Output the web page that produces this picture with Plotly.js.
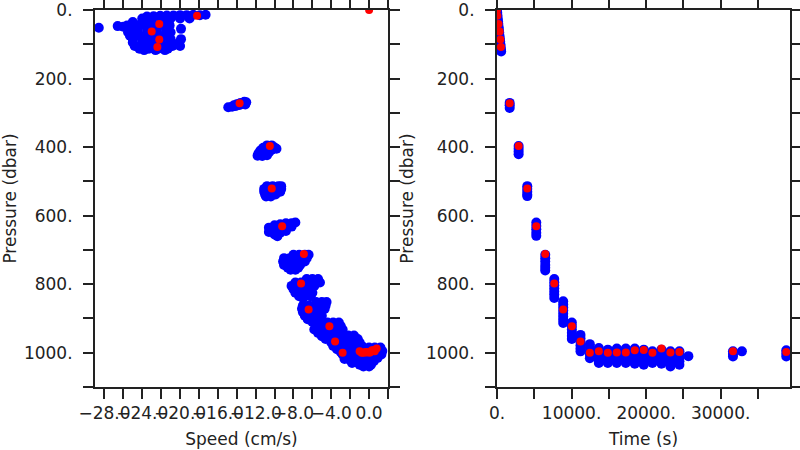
<!DOCTYPE html>
<html>
<head>
<meta charset="utf-8">
<script src="https://cdn.plot.ly/plotly-3.0.1.min.js"></script>
<style>html,body{margin:0;padding:0;background:#fff}#chart{width:800px;height:450px}</style>
</head>
<body>
<div id="chart"></div>
<script>
// Left panel: all observations, [speed (cm/s), pressure (dbar)]
const speedPressBlue = [
  // near-surface strip
  [-17.3,14],[-17.9,15],[-18.6,14],[-19.3,15],[-20.0,15],[-20.7,16],[-21.4,16],[-22.1,17],[-22.8,18],[-23.5,19],
  [-28.6,52],[-26.6,47],[-26.0,49],[-25.4,50],[-24.8,50],
  // surface body
  [-24.0,25],[-23.0,25],[-22.0,25],[-21.0,25],[-20.0,25],[-19.0,25],
  [-25.0,35],[-24.0,35],[-23.0,35],[-22.0,35],[-21.2,35],
  [-25.6,45],[-24.6,45],[-23.6,45],[-22.6,45],[-21.6,45],[-21.1,45],
  [-25.5,55],[-24.5,55],[-23.5,55],[-22.5,55],[-21.5,55],[-19.9,55],
  [-25.5,65],[-24.5,65],[-23.5,65],[-22.5,65],[-21.5,65],[-21.0,65],
  [-25.3,75],[-24.3,75],[-23.3,75],[-22.3,75],[-21.3,75],
  [-25.0,85],[-24.0,85],[-23.0,85],[-22.0,85],[-21.0,85],[-19.9,85],
  [-25.0,95],[-24.0,95],[-23.0,95],[-22.0,95],[-21.0,95],[-20.1,95],
  [-24.8,105],[-23.8,105],[-22.8,105],[-21.8,105],[-20.8,105],[-20.0,105],
  [-24.3,113],[-23.3,113],[-22.3,113],[-21.3,113],
  [-23.8,117],[-22.6,117],[-21.6,117],
  // ~275 dbar
  [-14.9,284],[-14.5,282],[-14.1,280],[-13.7,277],[-13.3,273],[-13.0,269],[-13.2,268],[-13.6,271],[-14.0,275],[-14.3,278],[-13.1,276],
  // ~400 dbar
  [-10.8,395],[-10.3,395],[-11.2,402],[-10.6,402],[-10.0,401],[-9.8,405],[-11.5,410],[-10.9,410],[-10.3,408],
  [-11.7,418],[-11.1,418],[-10.6,416],[-11.8,425],[-11.3,426],[-10.8,424],
  // ~525 dbar
  [-10.8,514],[-10.2,514],[-9.6,514],[-9.3,514],[-11.1,522],[-10.5,522],[-9.9,522],[-9.3,522],
  [-11.1,530],[-10.5,530],[-9.9,530],[-9.4,530],[-11.0,538],[-10.4,538],[-9.9,538],[-10.9,544],[-10.4,544],
  // ~635 dbar
  [-10.6,635],[-10.6,648],[-10.0,628],[-10.0,640],[-10.0,655],[-9.4,625],[-9.4,638],[-9.4,650],
  [-8.8,622],[-8.8,634],[-8.8,645],[-8.2,622],[-8.2,632],[-7.8,620],[-9.7,660],
  // ~735 dbar
  [-8.0,714],[-7.4,714],[-6.8,714],[-6.4,714],[-9.0,724],[-8.4,724],[-7.8,724],[-7.2,724],[-6.6,724],
  [-9.1,734],[-8.5,734],[-7.9,734],[-7.3,734],[-6.8,734],[-9.0,744],[-8.4,744],[-7.8,744],[-7.3,744],
  [-8.6,752],[-8.0,752],[-7.5,752],[-8.3,758],[-7.8,758],
  // ~810 dbar
  [-6.6,785],[-6.0,785],[-5.4,785],[-7.8,795],[-7.2,795],[-6.6,795],[-6.0,795],[-5.2,795],
  [-8.2,805],[-7.6,805],[-7.0,805],[-6.4,805],[-5.8,805],[-8.0,815],[-7.4,815],[-6.8,815],[-6.2,815],
  [-7.8,825],[-7.2,825],[-6.6,825],[-6.0,825],[-7.4,835],[-6.8,835],[-6.2,835],[-7.0,840],
  // ~880 dbar
  [-5.6,852],[-5.0,852],[-4.5,852],[-7.0,862],[-6.4,862],[-5.8,862],[-5.2,862],[-4.6,862],
  [-7.1,872],[-6.5,872],[-5.9,872],[-5.3,872],[-4.7,872],[-7.0,882],[-6.4,882],[-5.8,882],[-5.2,882],
  [-6.8,892],[-6.2,892],[-5.6,892],[-5.0,892],[-6.5,902],[-5.9,902],[-5.3,902],[-6.0,910],[-5.4,910],
  // ~935 dbar
  [-4.4,912],[-3.8,912],[-3.2,912],[-5.6,922],[-5.0,922],[-4.4,922],[-3.8,922],[-3.0,922],
  [-5.8,932],[-5.2,932],[-4.6,932],[-4.0,932],[-3.4,932],[-2.8,932],[-5.4,942],[-4.8,942],[-4.2,942],[-3.6,942],[-3.0,942],
  [-5.0,952],[-4.4,952],[-3.8,952],[-3.2,952],[-4.6,960],[-4.0,960],[-3.4,960],
  // ~970 dbar
  [-3.4,950],[-2.8,950],[-2.2,950],[-1.6,950],[-4.2,960],[-3.6,960],[-3.0,960],[-2.4,960],[-1.8,960],[-1.2,960],
  [-4.0,970],[-3.4,970],[-2.8,970],[-2.2,970],[-1.6,970],[-1.0,970],[-3.8,980],[-3.2,980],[-2.6,980],[-2.0,980],[-1.4,980],[-0.8,980],
  [-3.4,990],[-2.8,990],[-2.2,990],[-1.6,990],[-1.0,990],[-3.0,998],[-2.4,998],[-1.8,998],
  // parking depth
  [-1.2,985],[-0.6,985],[0.0,985],[0.6,985],[1.2,985],
  [-1.6,995],[-1.0,995],[-0.4,995],[0.2,995],[0.8,995],[1.4,995],
  [-1.6,1005],[-1.0,1005],[-0.4,1005],[0.2,1005],[0.8,1005],[1.3,1005],
  [-1.4,1015],[-0.8,1015],[-0.2,1015],[0.4,1015],[0.9,1015],
  [-1.2,1025],[-0.6,1025],[0.0,1025],[0.5,1025],[-1.0,1035],[-0.4,1035],[0.2,1035],[-0.6,1040],[0.0,1040],
  [-2.8,1005],[-2.2,1010],[-2.6,1018],[-2.0,1022],[-1.8,1030]
];
// Left panel: highlighted points, [speed, pressure]
const speedPressRed = [
  [0.0,0],[-18.2,17],[-22.2,41],[-23.0,63],[-22.2,86],[-22.4,108],[-13.7,272],[-10.5,397],[-10.3,521],
  [-9.2,631],[-6.9,712],[-7.2,798],[-6.4,874],[-4.2,923],[-3.6,967],[-2.8,1000],
  [-1.0,996],[-0.6,1000],[-0.3,999],[0.0,999],[0.3,993],[0.5,992],[-0.8,1000],[0.8,988],[0.1,999],[-0.4,998],[0.6,996],[-0.2,998]
];
// Right panel: all observations, [time (s), pressure (dbar)]
const timePressBlue = [
  [0,0],[30,8],[60,16],[100,25],[140,33],[180,41],[220,50],[260,58],[300,66],[340,75],[380,83],[420,91],[460,100],[500,108],[540,116],[560,121],
  [1700,271],[1700,278],[1700,286],
  [2900,397],[2900,405],[2900,413],[2900,421],
  [4060,514],[4060,522],[4060,530],[4060,538],[4060,543],
  [5270,620],[5270,630],[5270,640],[5270,650],[5270,659],
  [6470,714],[6470,724],[6470,734],[6470,744],[6470,752],[6470,760],
  [7680,785],[7680,794],[7680,803],[7680,812],[7680,821],[7680,830],[7680,840],
  [8880,850],[8880,859],[8880,868],[8880,877],[8880,886],[8880,895],[8880,904],[8880,913],
  [10040,912],[10040,922],[10040,932],[10040,942],[10040,951],[10040,960],
  [11200,948],[11200,958],[11200,968],[11200,978],[11200,988],[11200,996],
  [12455,975],[12455,985],[12455,995],[12455,1005],[12455,1016],
  [13660,986],[13660,995],[13660,1004],[13660,1013],[13660,1022],[13660,1030],
  [14865,991],[14865,1000],[14865,1010],[14865,1020],[14865,1030],
  [16070,988],[16070,997],[16070,1006],[16070,1015],[16070,1024],[16070,1030],
  [17276,988],[17276,997],[17276,1006],[17276,1015],[17276,1024],[17276,1030],
  [18481,988],[18481,997],[18481,1006],[18481,1015],[18481,1024],[18481,1032],
  [19686,991],[19686,1000],[19686,1010],[19686,1020],[19686,1028],[19686,1035],
  [20850,996],[20850,1005],[20850,1014],[20850,1022],[20850,1030],
  [22057,991],[22057,1000],[22057,1010],[22057,1020],[22057,1032],
  [23262,996],[23262,1005],[23262,1015],[23262,1025],[23262,1033],[23262,1040],
  [24468,996],[24468,1005],[24468,1015],[24468,1025],[24468,1035],
  [25670,1010],
  [31650,996],[31650,1004],[31650,1011],
  [32850,996],
  [38800,993],[38800,1002],[38800,1011]
];
// Right panel: highlighted points, [time, pressure]
const timePressRed = [
  [0,0],[50,17],[200,41],[350,63],[450,86],[530,108],[1700,272],[2900,397],[4060,521],[5270,631],
  [6470,712],[7680,798],[8880,874],[10040,923],[11200,967],[12455,1000],[13660,996],[14865,1000],
  [16070,999],[17276,999],[18481,993],[19686,992],[20850,1000],[22057,988],[23262,999],[24468,998],
  [31650,996],[38800,998]
];
const xTitleLeft = 'Speed (cm/s)';
const xTitleRight = 'Time (s)';
const yTitle = 'Pressure (dbar)';

const col = i => arr => arr.map(r => r[i]);
const BLUE = '#0000ff', RED = '#ff0000';
function pts(data, xa, ya, color, size) {
  return {type: 'scatter', mode: 'markers', x: col(0)(data), y: col(1)(data), xaxis: xa, yaxis: ya,
    marker: {color: color, size: size, line: {width: 0}}, hoverinfo: 'skip', showlegend: false};
}
const traces = [
  pts(speedPressBlue, 'x', 'y', BLUE, 10),
  pts(timePressBlue, 'x2', 'y2', BLUE, 10),
  pts(speedPressRed, 'x', 'y', RED, 8),
  pts(timePressRed, 'x2', 'y2', RED, 8)
];
const FONT = {family: 'DejaVu Sans, sans-serif', size: 17, color: '#222'};
const INK = '#222';
function axisBase() {
  return {showgrid: false, zeroline: false, showline: true, linecolor: INK, linewidth: 2,
    mirror: 'ticks', ticks: 'outside', ticklen: 10, tickwidth: 2, tickcolor: INK,
    tickfont: FONT, tickangle: 0, fixedrange: true};
}
const yBase = Object.assign(axisBase(), {range: [1100, 0], autorange: false, domain: [0.14, 0.97778],
  tickmode: 'linear', tick0: 0, dtick: 200, ticksuffix: '.', ticklabelstandoff: 7,
  minor: {tick0: 0, dtick: 100, ticks: 'outside', ticklen: 10, tickwidth: 2, tickcolor: INK, showgrid: false},
  title: {text: yTitle, font: FONT, standoff: 8}});
const layout = {
  width: 800, height: 450, margin: {l: 0, r: 0, t: 0, b: 0},
  paper_bgcolor: '#fff', plot_bgcolor: '#fff', showlegend: false,
  xaxis: Object.assign(axisBase(), {domain: [0.11875, 0.485], range: [-29, 2], autorange: false, anchor: 'y',
    tickmode: 'linear', tick0: 0, dtick: 4, tickformat: '.1f', ticklabelstandoff: 0,
    minor: {tick0: 0, dtick: 2, ticks: 'outside', ticklen: 10, tickwidth: 2, tickcolor: INK, showgrid: false},
    title: {text: xTitleLeft, font: FONT, standoff: 11}}),
  yaxis: Object.assign({}, yBase, {anchor: 'x'}),
  xaxis2: Object.assign(axisBase(), {domain: [0.62125, 0.9875], range: [0, 39300], autorange: false, anchor: 'y2',
    tickmode: 'linear', tick0: 0, dtick: 10000, tickformat: 'd', ticksuffix: '.', ticklabelstandoff: 0,
    minor: {tick0: 0, dtick: 5000, ticks: 'outside', ticklen: 10, tickwidth: 2, tickcolor: INK, showgrid: false},
    title: {text: xTitleRight, font: FONT, standoff: 11}}),
  yaxis2: Object.assign({}, yBase, {anchor: 'x2', minor: Object.assign({}, yBase.minor), title: {text: yTitle, font: FONT, standoff: 8}})
};
Plotly.newPlot('chart', traces, layout, {displayModeBar: false, staticPlot: true});
</script>
</body>
</html>
